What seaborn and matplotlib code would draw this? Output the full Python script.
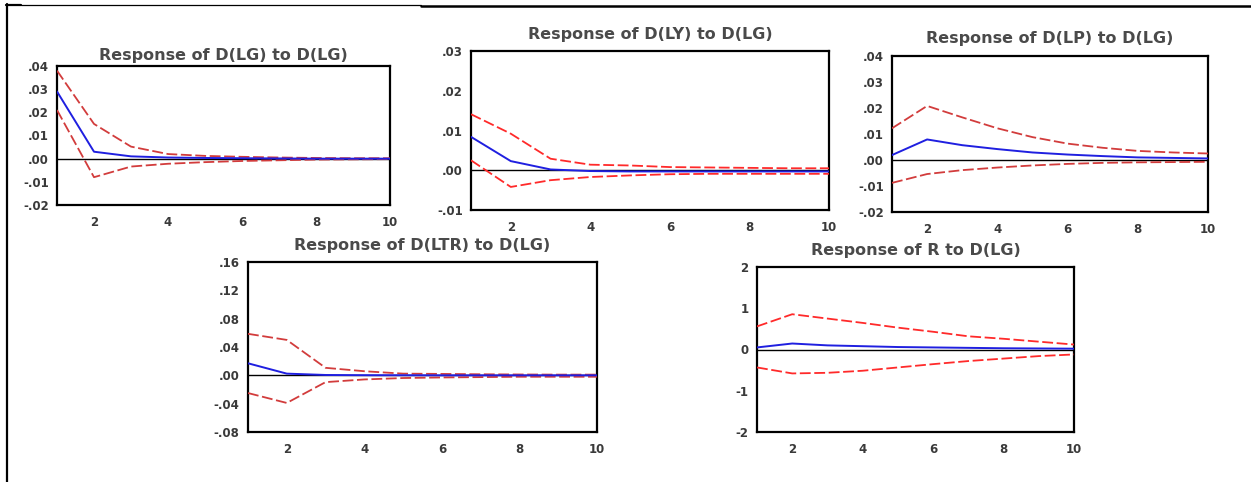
import matplotlib
matplotlib.use("Agg")
import matplotlib.pyplot as plt
from matplotlib.lines import Line2D
from matplotlib.ticker import MultipleLocator, FixedLocator
import seaborn as sns

sns.set_style("white")
plt.rcParams["font.family"] = ["DejaVu Sans"]

periods = [1, 2, 3, 4, 5, 6, 7, 8, 9, 10]

# Response of D(LG) to D(LG)
lg_resp = [0.029, 0.003, 0.001, 0.0005, 0.0003, 0.0002, 0.0001, 0.0, 0.0, 0.0]
lg_up = [0.038, 0.015, 0.0052, 0.002, 0.0012, 0.0008, 0.0005, 0.0003, 0.0002, 0.0002]
lg_lo = [0.021, -0.008, -0.0034, -0.0022, -0.0015, -0.001, -0.0007, -0.0004, -0.0003, -0.0002]

# Response of D(LY) to D(LG)
ly_resp = [0.0084, 0.0023, 0.0002, -0.0002, -0.0003, -0.0003, -0.0003, -0.0003, -0.0003, -0.0003]
ly_up = [0.0141, 0.0092, 0.0029, 0.0014, 0.0012, 0.0008, 0.0007, 0.0006, 0.0005, 0.0005]
ly_lo = [0.0025, -0.0042, -0.0025, -0.0017, -0.0013, -0.001, -0.0009, -0.0009, -0.0009, -0.0009]

# Response of D(LP) to D(LG)
lp_resp = [0.0019, 0.0079, 0.0057, 0.0042, 0.0029, 0.0021, 0.0015, 0.001, 0.0008, 0.0006]
lp_up = [0.0122, 0.0208, 0.0164, 0.0122, 0.0088, 0.0063, 0.0047, 0.0035, 0.0029, 0.0025]
lp_lo = [-0.0088, -0.0054, -0.0039, -0.0029, -0.0021, -0.0015, -0.0011, -0.0009, -0.0008, -0.0007]

# Response of D(LTR) to D(LG)
ltr_resp = [0.017, 0.0024, 0.0005, 0.0002, 0.0001, 0.0, 0.0, 0.0, 0.0, 0.0]
ltr_up = [0.0586, 0.050, 0.0106, 0.0058, 0.0024, 0.002, 0.0015, 0.0012, 0.001, 0.001]
ltr_lo = [-0.025, -0.039, -0.0096, -0.0058, -0.0038, -0.003, -0.0025, -0.002, -0.002, -0.002]

# Response of R to D(LG)
r_resp = [0.05, 0.145, 0.10, 0.08, 0.06, 0.05, 0.04, 0.03, 0.025, 0.02]
r_up = [0.56, 0.855, 0.75, 0.645, 0.53, 0.43, 0.32, 0.26, 0.19, 0.12]
r_lo = [-0.435, -0.58, -0.565, -0.515, -0.435, -0.355, -0.28, -0.22, -0.16, -0.12]

W, H = 1251, 482
fig = plt.figure(figsize=(W / 100, H / 100), dpi=100)


def rect(l, r, t, b):
    return [l / W, (H - b) / H, (r - l) / W, (b - t) / H]


panels = [
    ("Response of D(LG) to D(LG)", rect(57, 390, 66, 205), lg_resp, lg_up, lg_lo,
     [-0.02, -0.01, 0.0, 0.01, 0.02, 0.03, 0.04],
     ["-.02", "-.01", ".00", ".01", ".02", ".03", ".04"], "#d23c3c", 4.5),
    ("Response of D(LY) to D(LG)", rect(471, 829, 51, 210), ly_resp, ly_up, ly_lo,
     [-0.01, 0.0, 0.01, 0.02, 0.03],
     ["-.01", ".00", ".01", ".02", ".03"], "#ff2a2a", 8.5),
    ("Response of D(LP) to D(LG)", rect(892, 1208, 56, 212), lp_resp, lp_up, lp_lo,
     [-0.02, -0.01, 0.0, 0.01, 0.02, 0.03, 0.04],
     ["-.02", "-.01", ".00", ".01", ".02", ".03", ".04"], "#d23c3c", 9.5),
    ("Response of D(LTR) to D(LG)", rect(248, 597, 262, 432), ltr_resp, ltr_up, ltr_lo,
     [-0.08, -0.04, 0.0, 0.04, 0.08, 0.12, 0.16],
     ["-.08", "-.04", ".00", ".04", ".08", ".12", ".16"], "#d23c3c", 8.5),
    ("Response of R to D(LG)", rect(757, 1074, 267, 432), r_resp, r_up, r_lo,
     [-2, -1, 0, 1, 2],
     ["-2", "-1", "0", "1", "2"], "#ff2a2a", 8.5),
]

for title, pos, resp, up, lo, yt, ylab, red, tpad in panels:
    ax = fig.add_axes(pos)
    ax.axhline(0, color="black", lw=1.0, zorder=1)
    for band in (up, lo):
        sns.lineplot(x=periods, y=band, ax=ax, color=red, lw=1.3,
                     linestyle=(0, (6, 2)), zorder=3)
    sns.lineplot(x=periods, y=resp, ax=ax, color="#1f1fe0", lw=1.4, zorder=4)
    ax.set_xlim(1, 10)
    ax.set_ylim(yt[0], yt[-1])
    ax.set_yticks(yt)
    ax.set_yticklabels(ylab)
    ax.xaxis.set_major_locator(FixedLocator([2, 4, 6, 8, 10]))
    ax.xaxis.set_minor_locator(MultipleLocator(1))
    ax.tick_params(axis="both", which="both", direction="out", length=4, width=1.3,
                   color="black", labelsize=8.5, labelcolor="#3a3a3a", pad=2)
    ax.tick_params(axis="x", which="major", pad=4)
    for lab in ax.get_xticklabels() + ax.get_yticklabels():
        lab.set_fontweight("bold")
    for s in ax.spines.values():
        s.set_visible(True)
        s.set_color("black")
        s.set_linewidth(1.6)
    ax.set_xlabel("")
    ax.set_ylabel("")
    ax.set_title(title, fontsize=11.5, fontweight="bold", color="#4a4a4a", pad=tpad)

# page frame
fig.add_artist(Line2D([7 / W, 7 / W], [0, 1 - 4 / H], transform=fig.transFigure,
                      color="black", lw=1.6))
fig.add_artist(Line2D([6 / W, 21 / W], [1 - 5 / H] * 2, transform=fig.transFigure,
                      color="black", lw=1.6))
fig.add_artist(Line2D([21 / W, 421 / W], [1 - 4.5 / H] * 2, transform=fig.transFigure,
                      color="black", lw=0.9))
fig.add_artist(Line2D([421 / W, 1], [1 - 5.5 / H] * 2, transform=fig.transFigure,
                      color="black", lw=1.8))

fig.savefig("out.png", dpi=100, facecolor="white")
